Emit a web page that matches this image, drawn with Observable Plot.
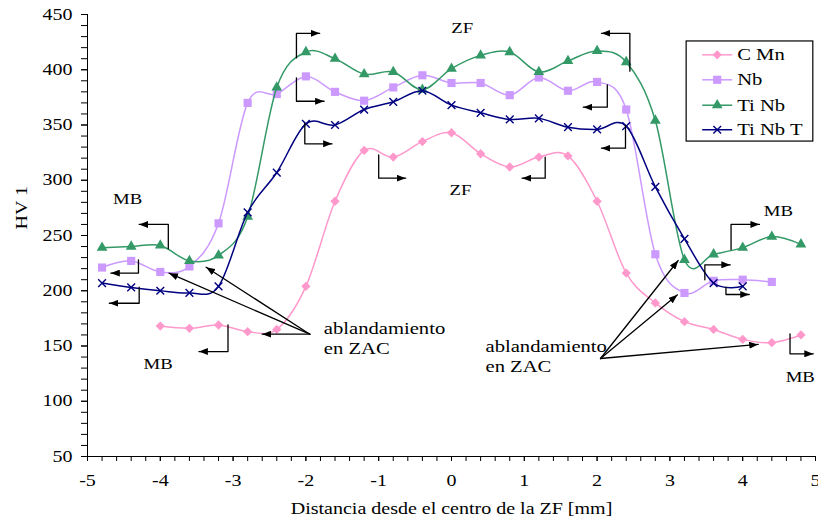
<!DOCTYPE html>
<html><head><meta charset="utf-8">
<script src="https://cdn.jsdelivr.net/npm/d3@7"></script>
<script src="https://cdn.jsdelivr.net/npm/@observablehq/plot@0.6"></script>
<style>
html,body{margin:0;padding:0;background:#fff;}
#chart{position:relative;width:818px;height:523px;}
#chart svg, #chart svg text{font-family:"Liberation Serif","Times New Roman",serif !important;}
</style></head><body><div id="chart"></div>
<script>
// ---- data ----
const seriesNames = ["C Mn", "Nb", "Ti Nb", "Ti Nb T"];
const seriesColors = ["#FF99CC", "#CC99FF", "#339966", "#000080"];
const seriesSymbols = ["diamond2", "square", "triangle", "times"];

const xCMn   = [-4.0,-3.6,-3.2,-2.8,-2.4,-2.0,-1.6,-1.2,-0.8,-0.4,0,0.4,0.8,1.2,1.6,2.0,2.4,2.8,3.2,3.6,4.0,4.4,4.8];
const yCMn   = [168,166,169,163,165,204,281,327,321,335,343,324,312,321,322,281,216,189,172,165,156,153,160];
const xNb    = [-4.8,-4.4,-4.0,-3.6,-3.2,-2.8,-2.4,-2.0,-1.6,-1.2,-0.8,-0.4,0,0.4,0.8,1.2,1.6,2.0,2.4,2.8,3.2,3.6,4.0,4.4];
const yNb    = [221,227,217,222,261,370,378,394,380,372,384,395,388,388,377,393,381,389,364,233,198,209,210,208];
const xTiNb  = [-4.8,-4.4,-4.0,-3.6,-3.2,-2.8,-2.4,-2.0,-1.6,-1.2,-0.8,-0.4,0,0.4,0.8,1.2,1.6,2.0,2.4,2.8,3.2,3.6,4.0,4.4,4.8];
const yTiNb  = [239,240,241,227,232,267,384,416,410,396,398,382,401,413,416,398,408,417,407,354,228,233,239,249,242];
const xTiNbT = [-4.8,-4.4,-4.0,-3.6,-3.2,-2.8,-2.4,-2.0,-1.6,-1.2,-0.8,-0.4,0,0.4,0.8,1.2,1.6,2.0,2.4,2.8,3.2,3.6,4.0];
const yTiNbT = [207,203,200,198,204,271,307,351,350,364,371,381,368,361,355,356,348,346,349,294,247,207,204];

const xTicks = [-5,-4,-3,-2,-1,0,1,2,3,4,5];
const yTicks = [50,100,150,200,250,300,350,400,450];
const xMinor = d3.range(-50, 51, 2).map(d => d / 10);
const yMinor = d3.range(50, 451, 10);

const xTitle = "Distancia desde el centro de la ZF [mm]";
const yTitle = "HV 1";

// annotation arrows (data coordinates), last point carries the arrowhead
const arrowPaths = [
  [[-4.30,228],[-4.30,216],[-4.68,216]],
  [[-4.29,203.2],[-4.29,188.7],[-4.70,188.7]],
  [[-3.07,169.2],[-3.07,145],[-3.47,145]],
  [[-3.89,238],[-3.89,260],[-4.29,260]],
  [[-2.13,410.8],[-2.13,433],[-1.81,433]],
  [[-2.13,392.7],[-2.13,371.5],[-1.75,371.5]],
  [[-2.015,351.6],[-2.015,333],[-1.64,333]],
  [[-1.0,323],[-1.0,301.9],[-0.63,301.9]],
  [[1.287,320.9],[1.287,301.9],[0.97,301.9]],
  [[2.45,398.7],[2.45,433],[2.06,433]],
  [[2.14,386.4],[2.14,366.1],[1.81,366.1]],
  [[2.39,349.5],[2.39,329],[2.06,329]],
  [[3.84,237.3],[3.84,260],[4.23,260]],
  [[3.48,209.9],[3.48,223.5],[3.83,223.5]],
  [[3.77,203.2],[3.77,196.6],[4.09,196.6]],
  [[4.65,161],[4.65,142.9],[4.97,142.9]],
  [[-1.946,160.7],[-3.37,221.3]],
  [[-1.946,160.7],[-3.88,215.9]],
  [[-1.946,160.7],[-2.60,160.7]],
  [[2.047,138.7],[3.114,227.4]],
  [[2.047,138.7],[3.104,196.3]],
  [[2.047,138.7],[4.213,151.4]]
];
const zoneLabels = [
  {x:-4.45, y:283.3, t:"MB"},
  {x:-4.03, y:133.9, t:"MB"},
  {x:0.147, y:438, t:"ZF"},
  {x:0.124, y:290.7, t:"ZF"},
  {x:4.49, y:272, t:"MB"},
  {x:4.79, y:121.8, t:"MB"}
];
const noteLines = [
  {x:-1.754, y:165.2, t:"ablandamiento"},
  {x:-1.754, y:147.1, t:"en ZAC"},
  {x:0.467, y:149.8, t:"ablandamiento"},
  {x:0.467, y:131.7, t:"en ZAC"}
];
const legendBox = [{x1:3.23, x2:4.97, y1:335, y2:425.6}];
const legendY = [413.5, 390.9, 367.9, 345.7];

// ---- build ----
const FONT = "'Liberation Serif', 'Times New Roman', serif";
const xs = [xCMn, xNb, xTiNb, xTiNbT];
const ys = [yCMn, yNb, yTiNb, yTiNbT];
const seriesData = seriesNames.map((s, i) => xs[i].map((x, j) => ({s, x, y: ys[i][j]})));
const arrowRows = arrowPaths.flatMap((p, id) => p.map(([x, y]) => ({id, x, y})));
const legendRows = seriesNames.map((s, i) => ({s, y: legendY[i], i}));
const symR = [4.2, 4.6, 4.0, 3.6];

function arrowHead(color, context) {
  const doc = (context && context.document) || document;
  const ns = "http://www.w3.org/2000/svg";
  const m = doc.createElementNS(ns, "marker");
  m.setAttribute("viewBox", "-9 -3.5 9 7");
  m.setAttribute("markerWidth", 9);
  m.setAttribute("markerHeight", 7);
  m.setAttribute("markerUnits", "userSpaceOnUse");
  m.setAttribute("orient", "auto");
  m.setAttribute("refX", 0);
  m.setAttribute("refY", 0);
  const p = doc.createElementNS(ns, "path");
  p.setAttribute("d", "M-9,-3.5L0,0L-9,3.5Z");
  p.setAttribute("fill", "black");
  p.setAttribute("stroke", "none");
  m.appendChild(p);
  return m;
}

const seriesMarks = seriesNames.flatMap((s, i) => [
  Plot.line(seriesData[i], {x: "x", y: "y", stroke: seriesColors[i], strokeWidth: 1.5, curve: "cardinal"}),
  Plot.dot(seriesData[i], {x: "x", y: "y", symbol: seriesSymbols[i], r: symR[i],
    fill: i === 3 ? "none" : seriesColors[i],
    stroke: i === 3 ? seriesColors[i] : "none", strokeWidth: 1.4})
]);

const legendMarks = [
  Plot.rect(legendBox, {x1: "x1", x2: "x2", y1: "y1", y2: "y2", fill: "white", stroke: "black", strokeWidth: 1.2}),
  Plot.link(legendRows, {x1: 3.444, x2: 3.856, y1: "y", y2: "y", stroke: d => seriesColors[d.i], strokeWidth: 1.5}),
  ...legendRows.map(d => Plot.dot([d], {x: () => 3.65, y: "y", symbol: seriesSymbols[d.i], r: symR[d.i],
    fill: d.i === 3 ? "none" : seriesColors[d.i],
    stroke: d.i === 3 ? seriesColors[d.i] : "none", strokeWidth: 1.4})),
  Plot.text(legendRows, {x: () => 3.924, y: "y", text: "s", textAnchor: "start", fontSize: 16.5, fontFamily: FONT})
];

const chart = Plot.plot({
  width: 818, height: 523,
  marginLeft: 87, marginRight: 3, marginTop: 14, marginBottom: 67,
  style: {fontFamily: FONT, fontSize: "16px", background: "white", color: "black", overflow: "visible"},
  x: {domain: [-5, 5]},
  y: {domain: [50, 450]},
  marks: [
    Plot.axisY(yMinor, {tickSize: 6, tickFormat: () => "", label: null}),
    Plot.axisY(yTicks, {tickSize: 6, tickPadding: 9, tickFormat: d => String(d), label: null, fontSize: 16, fontFamily: FONT}),
    Plot.axisX(xMinor, {tickSize: 5, tickFormat: () => "", label: null}),
    Plot.axisX(xTicks, {tickSize: 5, tickPadding: 13, tickFormat: d => String(d), label: null, fontSize: 16, fontFamily: FONT}),
    Plot.ruleX([-5], {stroke: "black"}),
    Plot.ruleY([50], {stroke: "black"}),
    Plot.text([xTitle], {frameAnchor: "bottom", dy: 57, fontSize: 16, fontFamily: FONT}),
    Plot.text([yTitle], {frameAnchor: "left", dx: -66, dy: -6, rotate: -90, fontSize: 16, fontFamily: FONT, ariaLabel: "ytitle"}),
    ...seriesMarks,
    Plot.line(arrowRows, {x: "x", y: "y", z: "id", stroke: "black", strokeWidth: 1.3, markerEnd: arrowHead}),
    Plot.text(zoneLabels, {x: "x", y: "y", text: "t", fontSize: 15, fontFamily: FONT}),
    Plot.text(noteLines, {x: "x", y: "y", text: "t", textAnchor: "start", fontSize: 16.5, fontFamily: FONT}),
    ...legendMarks
  ]
});

document.getElementById("chart").appendChild(chart);

// horizontal stretch of the text, as in the reference
chart.querySelectorAll("text").forEach(t => {
  const g = t.closest("g");
  if (g && g.getAttribute("aria-label") === "ytitle") return;
  if (t.querySelector("tspan")) return;
  const len = t.getComputedTextLength();
  if (len > 0) {
    t.setAttribute("textLength", (len * 1.25).toFixed(2));
    t.setAttribute("lengthAdjust", "spacingAndGlyphs");
  }
});
</script></body></html>
